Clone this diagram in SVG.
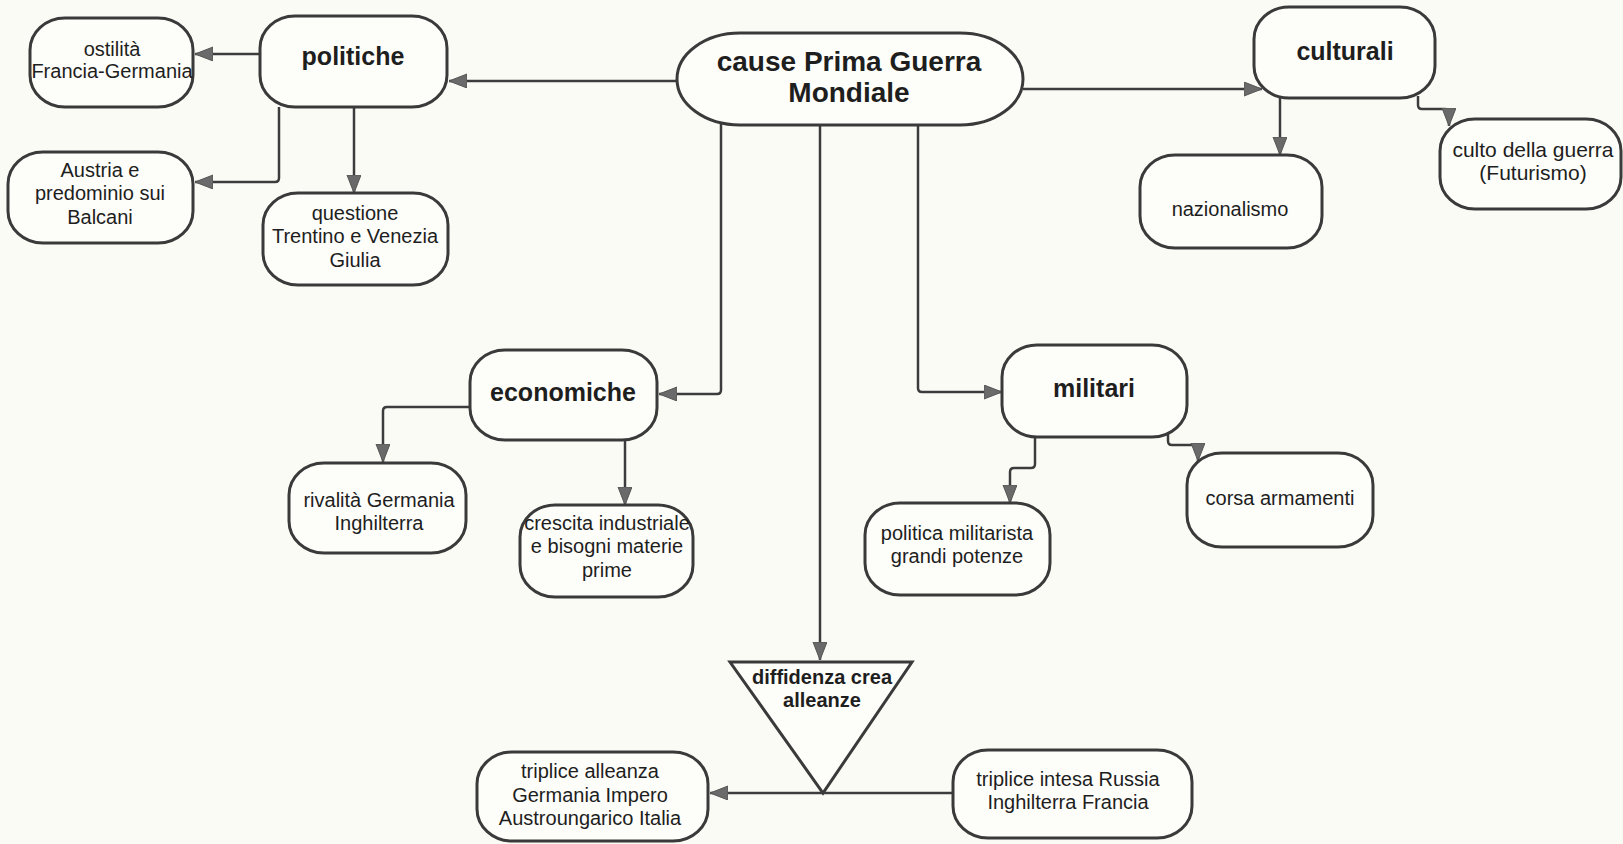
<svg xmlns="http://www.w3.org/2000/svg" width="1623" height="844" viewBox="0 0 1623 844">
<defs>
<marker id="ah" markerUnits="userSpaceOnUse" markerWidth="20" markerHeight="16" refX="18" refY="7" orient="auto">
<path d="M0,0 L18,7 L0,14 z" fill="#6a6a6a" stroke="#555" stroke-width="1"/>
</marker>
<style>
.n{fill:#fdfdf9;stroke:#3a3a3a;stroke-width:3}
.t{font-family:"Liberation Sans",Arial,sans-serif;font-size:20px;fill:#1e1e1e;text-anchor:middle}
.b{font-family:"Liberation Sans",Arial,sans-serif;font-weight:bold;font-size:25px;fill:#1e1e1e;text-anchor:middle}
.c{fill:none;stroke:#3c3c3c;stroke-width:2.5;marker-end:url(#ah)}
</style>
</defs>
<rect width="1623" height="844" fill="#fbfbf6"/>
<g id="connectors">
<path class="c" d="M677,81 H449"/>
<path class="c" d="M260,54 H195"/>
<path class="c" d="M279,107 V178 Q279,182 275,182 H195"/>
<path class="c" d="M354,107 V193"/>
<path class="c" d="M1023,89 H1262"/>
<path class="c" d="M1280,98 V155"/>
<path class="c" d="M1418,96 V105 Q1418,109 1422,109 H1445 Q1449,109 1449,113 V126"/>
<path class="c" d="M721,124 V390 Q721,394 717,394 H659"/>
<path class="c" d="M918,124 V388 Q918,392 922,392 H1002"/>
<path class="c" d="M820,124 V660"/>
<path class="c" d="M470,407 H387 Q383,407 383,411 V462"/>
<path class="c" d="M625,440 V505"/>
<path class="c" d="M1035,437 V464 Q1035,468 1031,468 H1014 Q1010,468 1010,472 V503"/>
<path class="c" d="M1168,428 V441 Q1168,445 1172,445 H1194 Q1198,445 1198,449 V461"/>
<path class="c" d="M953,793 H710"/>
</g>
<g id="main">
<rect class="n" x="677" y="33" width="346" height="92" rx="63" ry="46"/>
<text class="b" style="font-size:28px" x="849" y="71">cause Prima Guerra</text>
<text class="b" style="font-size:28px" x="849" y="102">Mondiale</text>
</g>
<g id="politiche">
<rect class="n" x="260" y="16" width="187" height="91" rx="35" ry="32"/>
<text class="b" x="353" y="65">politiche</text>
</g>
<g id="ostilita">
<rect class="n" x="30" y="18" width="163" height="89" rx="35" ry="32"/>
<text class="t" x="112" y="56">ostilità</text>
<text class="t" x="112" y="78">Francia-Germania</text>
</g>
<g id="austria">
<rect class="n" x="8" y="152" width="185" height="91" rx="35" ry="32"/>
<text class="t" x="100" y="177">Austria e</text>
<text class="t" x="100" y="200">predominio sui</text>
<text class="t" x="100" y="224">Balcani</text>
</g>
<g id="questione">
<rect class="n" x="263" y="193" width="185" height="92" rx="35" ry="32"/>
<text class="t" x="355" y="220">questione</text>
<text class="t" x="355" y="243">Trentino e Venezia</text>
<text class="t" x="355" y="267">Giulia</text>
</g>
<g id="culturali">
<rect class="n" x="1254" y="7" width="181" height="91" rx="35" ry="32"/>
<text class="b" x="1345" y="60">culturali</text>
</g>
<g id="nazionalismo">
<rect class="n" x="1140" y="155" width="182" height="93" rx="35" ry="32"/>
<text class="t" x="1230" y="216">nazionalismo</text>
</g>
<g id="culto">
<rect class="n" x="1440" y="119" width="181" height="90" rx="35" ry="32"/>
<text class="t" style="font-size:21px" x="1533" y="157">culto della guerra</text>
<text class="t" style="font-size:21px" x="1533" y="180">(Futurismo)</text>
</g>
<g id="economiche">
<rect class="n" x="470" y="350" width="187" height="90" rx="35" ry="32"/>
<text class="b" x="563" y="401">economiche</text>
</g>
<g id="rivalita">
<rect class="n" x="289" y="463" width="177" height="90" rx="35" ry="32"/>
<text class="t" x="379" y="507">rivalità Germania</text>
<text class="t" x="379" y="530">Inghilterra</text>
</g>
<g id="crescita">
<rect class="n" x="520" y="505" width="173" height="92" rx="35" ry="32"/>
<text class="t" x="607" y="530">crescita industriale</text>
<text class="t" x="607" y="553">e bisogni materie</text>
<text class="t" x="607" y="577">prime</text>
</g>
<g id="militari">
<rect class="n" x="1002" y="345" width="185" height="92" rx="35" ry="32"/>
<text class="b" x="1094" y="397">militari</text>
</g>
<g id="politica-militarista">
<rect class="n" x="865" y="503" width="185" height="92" rx="35" ry="32"/>
<text class="t" x="957" y="540">politica militarista</text>
<text class="t" x="957" y="563">grandi potenze</text>
</g>
<g id="corsa">
<rect class="n" x="1187" y="453" width="186" height="94" rx="35" ry="32"/>
<text class="t" x="1280" y="505">corsa armamenti</text>
</g>
<g id="diffidenza">
<path class="n" d="M730,662 H912 L823,793 Z" stroke-linejoin="miter"/>
<text class="b" style="font-size:20px" x="822" y="684">diffidenza crea</text>
<text class="b" style="font-size:20px" x="822" y="707">alleanze</text>
</g>
<g id="triplice-alleanza">
<rect class="n" x="477" y="752" width="231" height="89" rx="35" ry="32"/>
<text class="t" x="590" y="778">triplice alleanza</text>
<text class="t" x="590" y="802">Germania Impero</text>
<text class="t" x="590" y="825">Austroungarico Italia</text>
</g>
<g id="triplice-intesa">
<rect class="n" x="953" y="750" width="239" height="88" rx="35" ry="32"/>
<text class="t" x="1068" y="786">triplice intesa Russia</text>
<text class="t" x="1068" y="809">Inghilterra Francia</text>
</g>
</svg>
